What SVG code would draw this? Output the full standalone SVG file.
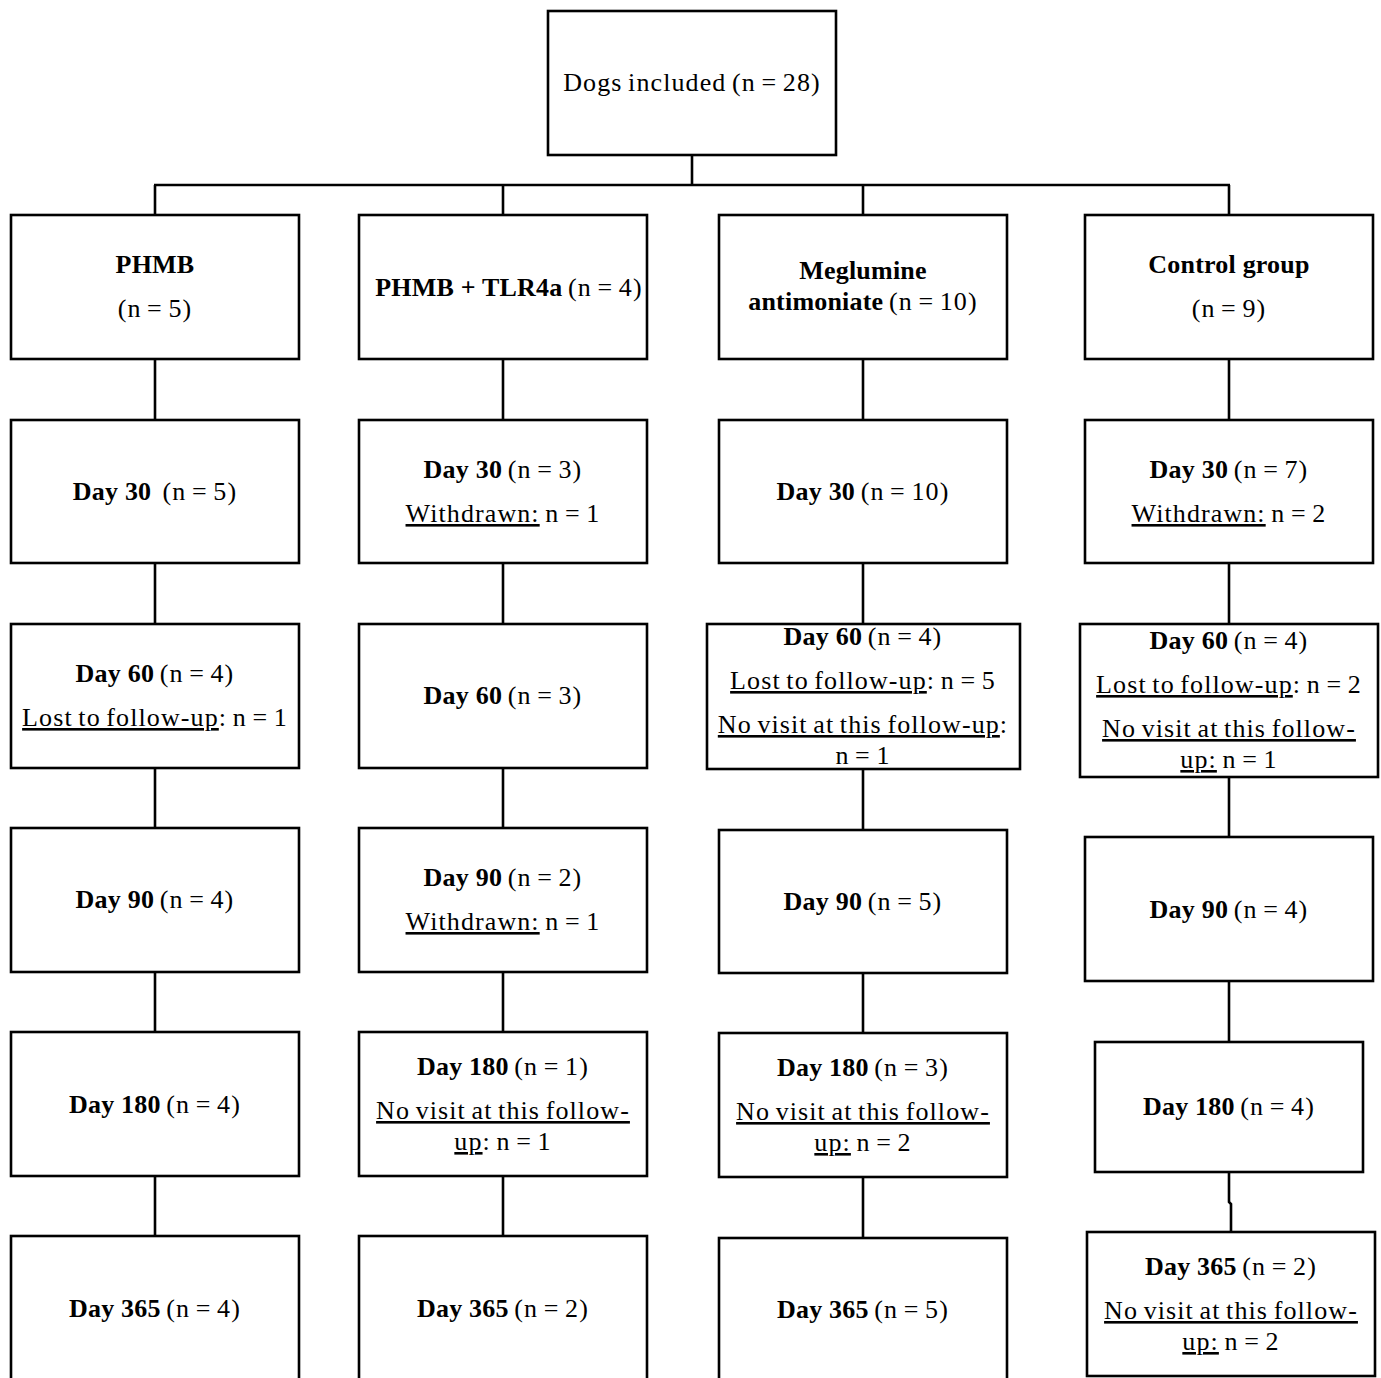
<svg xmlns="http://www.w3.org/2000/svg" width="1381" height="1378" viewBox="0 0 1381 1378">
<style>
.n rect{fill:#fff;stroke:#000;stroke-width:2.6}
.c line,.c polyline{fill:none;stroke:#000;stroke-width:2.6}
text{font-family:"Liberation Serif","DejaVu Serif",serif;font-size:26px;letter-spacing:1.1px;word-spacing:-2px;fill:#000;text-anchor:middle}
.b{font-weight:bold;letter-spacing:0.2px;word-spacing:0}
.u{text-decoration:underline}
</style>
<rect width="1381" height="1378" fill="#fff"/>
<g class="c" id="connectors">
<line x1="692" y1="155" x2="692" y2="185"/>
<line x1="154" y1="185" x2="1230" y2="185"/>
<line x1="155" y1="185" x2="155" y2="215"/>
<line x1="503" y1="185" x2="503" y2="215"/>
<line x1="863" y1="185" x2="863" y2="215"/>
<line x1="1229" y1="185" x2="1229" y2="215"/>
<line x1="155" y1="359" x2="155" y2="420"/>
<line x1="155" y1="563" x2="155" y2="624"/>
<line x1="155" y1="768" x2="155" y2="828"/>
<line x1="155" y1="972" x2="155" y2="1032"/>
<line x1="155" y1="1176" x2="155" y2="1236"/>
<line x1="503" y1="359" x2="503" y2="420"/>
<line x1="503" y1="563" x2="503" y2="624"/>
<line x1="503" y1="768" x2="503" y2="828"/>
<line x1="503" y1="972" x2="503" y2="1032"/>
<line x1="503" y1="1176" x2="503" y2="1236"/>
<line x1="863" y1="359" x2="863" y2="420"/>
<line x1="863" y1="563" x2="863" y2="624"/>
<line x1="863" y1="769" x2="863" y2="830"/>
<line x1="863" y1="973" x2="863" y2="1033"/>
<line x1="863" y1="1177" x2="863" y2="1238"/>
<line x1="1229" y1="359" x2="1229" y2="420"/>
<line x1="1229" y1="563" x2="1229" y2="624"/>
<line x1="1229" y1="777" x2="1229" y2="837"/>
<line x1="1229" y1="981" x2="1229" y2="1042"/>
<polyline points="1229,1172 1229,1202 1231,1204 1231,1232"/>
</g>
<g class="n" id="n-dogs"><rect x="548" y="11" width="288" height="144"/><text x="692" y="91">Dogs included (n = 28)</text></g>
<g class="n" id="n-phmb"><rect x="11" y="215" width="288" height="144"/><text x="155" y="273" class="b">PHMB</text><text x="155" y="317">(n = 5)</text></g>
<g class="n" id="n-tlr"><rect x="359" y="215" width="288" height="144"/><text x="509" y="296"><tspan class="b">PHMB + TLR4a</tspan> (n = 4)</text></g>
<g class="n" id="n-meg"><rect x="719" y="215" width="288" height="144"/><text x="863" y="279" class="b">Meglumine</text><text x="863" y="310"><tspan class="b">antimoniate</tspan> (n = 10)</text></g>
<g class="n" id="n-ctrl"><rect x="1085" y="215" width="288" height="144"/><text x="1229" y="273" class="b">Control group</text><text x="1229" y="317">(n = 9)</text></g>

<g class="n" id="n-p30"><rect x="11" y="420" width="288" height="143"/><text x="155" y="500" xml:space="preserve"><tspan class="b">Day 30</tspan>  (n = 5)</text></g>
<g class="n" id="n-t30"><rect x="359" y="420" width="288" height="143"/><text x="503" y="478"><tspan class="b">Day 30</tspan> (n = 3)</text><text x="503" y="522"><tspan class="u">Withdrawn:</tspan> n = 1</text></g>
<g class="n" id="n-m30"><rect x="719" y="420" width="288" height="143"/><text x="863" y="500"><tspan class="b">Day 30</tspan> (n = 10)</text></g>
<g class="n" id="n-c30"><rect x="1085" y="420" width="288" height="143"/><text x="1229" y="478"><tspan class="b">Day 30</tspan> (n = 7)</text><text x="1229" y="522"><tspan class="u">Withdrawn:</tspan> n = 2</text></g>

<g class="n" id="n-p60"><rect x="11" y="624" width="288" height="144"/><text x="155" y="682"><tspan class="b">Day 60</tspan> (n = 4)</text><text x="155" y="726"><tspan class="u">Lost to follow-up</tspan>: n = 1</text></g>
<g class="n" id="n-t60"><rect x="359" y="624" width="288" height="144"/><text x="503" y="704"><tspan class="b">Day 60</tspan> (n = 3)</text></g>
<g class="n" id="n-m60"><rect x="707" y="624" width="313" height="145"/><text x="863" y="645"><tspan class="b">Day 60</tspan> (n = 4)</text><text x="863" y="689"><tspan class="u">Lost to follow-up</tspan>: n = 5</text><text x="863" y="733"><tspan class="u">No visit at this follow-up</tspan>:</text><text x="863" y="764">n = 1</text></g>
<g class="n" id="n-c60"><rect x="1080" y="624" width="298" height="153"/><text x="1229" y="649"><tspan class="b">Day 60</tspan> (n = 4)</text><text x="1229" y="693"><tspan class="u">Lost to follow-up</tspan>: n = 2</text><text x="1229" y="737" class="u">No visit at this follow-</text><text x="1229" y="768"><tspan class="u">up:</tspan> n = 1</text></g>

<g class="n" id="n-p90"><rect x="11" y="828" width="288" height="144"/><text x="155" y="908"><tspan class="b">Day 90</tspan> (n = 4)</text></g>
<g class="n" id="n-t90"><rect x="359" y="828" width="288" height="144"/><text x="503" y="886"><tspan class="b">Day 90</tspan> (n = 2)</text><text x="503" y="930"><tspan class="u">Withdrawn:</tspan> n = 1</text></g>
<g class="n" id="n-m90"><rect x="719" y="830" width="288" height="143"/><text x="863" y="910"><tspan class="b">Day 90</tspan> (n = 5)</text></g>
<g class="n" id="n-c90"><rect x="1085" y="837" width="288" height="144"/><text x="1229" y="918"><tspan class="b">Day 90</tspan> (n = 4)</text></g>

<g class="n" id="n-p180"><rect x="11" y="1032" width="288" height="144"/><text x="155" y="1113"><tspan class="b">Day 180</tspan> (n = 4)</text></g>
<g class="n" id="n-t180"><rect x="359" y="1032" width="288" height="144"/><text x="503" y="1075"><tspan class="b">Day 180</tspan> (n = 1)</text><text x="503" y="1119" class="u">No visit at this follow-</text><text x="503" y="1150"><tspan class="u">up</tspan>: n = 1</text></g>
<g class="n" id="n-m180"><rect x="719" y="1033" width="288" height="144"/><text x="863" y="1076"><tspan class="b">Day 180</tspan> (n = 3)</text><text x="863" y="1120" class="u">No visit at this follow-</text><text x="863" y="1151"><tspan class="u">up:</tspan> n = 2</text></g>
<g class="n" id="n-c180"><rect x="1095" y="1042" width="268" height="130"/><text x="1229" y="1115"><tspan class="b">Day 180</tspan> (n = 4)</text></g>

<g class="n" id="n-p365"><rect x="11" y="1236" width="288" height="160"/><text x="155" y="1317"><tspan class="b">Day 365</tspan> (n = 4)</text></g>
<g class="n" id="n-t365"><rect x="359" y="1236" width="288" height="160"/><text x="503" y="1317"><tspan class="b">Day 365</tspan> (n = 2)</text></g>
<g class="n" id="n-m365"><rect x="719" y="1238" width="288" height="160"/><text x="863" y="1318"><tspan class="b">Day 365</tspan> (n = 5)</text></g>
<g class="n" id="n-c365"><rect x="1087" y="1232" width="288" height="144"/><text x="1231" y="1275"><tspan class="b">Day 365</tspan> (n = 2)</text><text x="1231" y="1319" class="u">No visit at this follow-</text><text x="1231" y="1350"><tspan class="u">up:</tspan> n = 2</text></g>
</svg>
